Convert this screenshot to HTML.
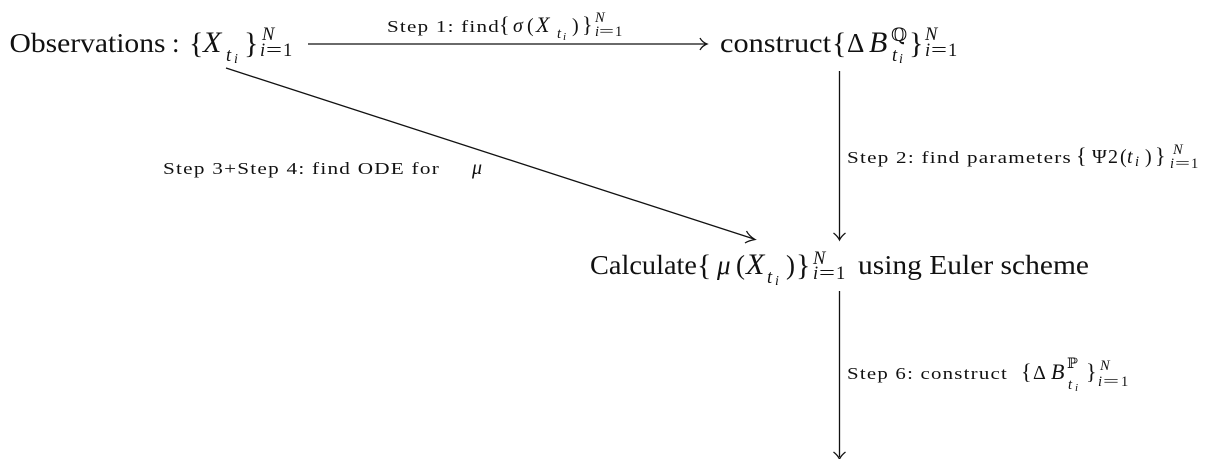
<!DOCTYPE html>
<html><head><meta charset="utf-8"><style>
html,body{margin:0;padding:0;background:#fff;width:1209px;height:459px;overflow:hidden}
svg{display:block}
text{font-family:"Liberation Serif","DejaVu Serif",serif;fill:#111}
.b{font-size:27px}.i{font-style:italic}
.s{font-size:17px;letter-spacing:1px}.m{font-size:20px}.xs{font-size:14.5px}.xxs{font-size:11px}
.n{font-size:18.500px}.ss{font-size:14px}
.bx{font-size:30px}.mx{font-size:22px}
line,path{stroke:#111;fill:none;stroke-width:1.3}
</style></head><body>
<svg width="1209" height="459" viewBox="0 0 1209 459" xmlns="http://www.w3.org/2000/svg">
<line x1="308" y1="44" x2="706" y2="44"/><path d="M700 38Q702 42 707 44Q702 46 700 50"/>
<line x1="839.5" y1="71" x2="839.5" y2="239"/><path d="M833.5 233Q837.5 236 839.5 240Q841.5 236 845.5 233"/>
<line x1="839.5" y1="291" x2="839.5" y2="457"/><path d="M833.5 452Q837.5 455 839.5 459Q841.5 455 845.5 452"/>
<line x1="226" y1="68" x2="754" y2="239"/><path d="M746.500 231Q749 236 755 239.500Q749 240.500 745 243"/>

<text class="b" x="9.500" y="52" textLength="156" lengthAdjust="spacingAndGlyphs">Observations</text>
<text class="b" x="172" y="52">:</text>
<text class="bx" x="189" y="53">{</text>
<text class="bx i" x="203" y="52">X</text>
<text class="n i" x="226" y="61">t</text><text class="ss i" x="234" y="63">i</text>
<text class="bx" x="244" y="53">}</text>
<text class="n i" x="262" y="40">N</text>
<text class="n i" x="260" y="56">i</text><text class="n" x="266" y="56" textLength="16" lengthAdjust="spacingAndGlyphs">=</text><text class="n" x="283" y="56">1</text>

<text class="s" x="387" y="32" textLength="113" lengthAdjust="spacingAndGlyphs">Step 1: find</text>
<text class="mx" x="499" y="32">{</text><text class="m i" x="513" y="32">σ</text><text class="m" x="527" y="32">(</text>
<text class="mx i" x="536" y="32">X</text>
<text class="xs i" x="557" y="38">t</text><text class="xxs i" x="563" y="40">i</text>
<text class="m" x="572" y="32">)</text><text class="mx" x="582" y="32">}</text>
<text class="xs i" x="595" y="22">N</text>
<text class="xs i" x="595" y="36">i</text><text class="xs" x="599" y="36" textLength="15" lengthAdjust="spacingAndGlyphs">=</text><text class="xs" x="615" y="36">1</text>

<text class="b" x="720" y="52" textLength="111" lengthAdjust="spacingAndGlyphs">construct</text>
<text class="bx" x="832" y="53">{</text>
<text class="b" x="847" y="52">Δ</text>
<text class="bx i" x="869" y="52">B</text>
<text class="n" x="891" y="41">ℚ</text>
<text class="n i" x="892" y="61">t</text><text class="ss i" x="899" y="63">i</text>
<text class="bx" x="909" y="53">}</text>
<text class="n i" x="925" y="40">N</text>
<text class="n i" x="925" y="56">i</text><text class="n" x="931" y="56" textLength="16" lengthAdjust="spacingAndGlyphs">=</text><text class="n" x="948" y="56">1</text>

<text class="s" x="847" y="163" textLength="225" lengthAdjust="spacingAndGlyphs">Step 2: find parameters</text>
<text class="mx" x="1076" y="163">{</text><text class="m" x="1092" y="163">Ψ</text>
<text class="m" x="1108" y="163">2</text><text class="m" x="1120" y="163">(</text>
<text class="m i" x="1127" y="163">t</text><text class="xs i" x="1135" y="166">i</text>
<text class="m" x="1145" y="163">)</text><text class="mx" x="1155" y="163">}</text>
<text class="xs i" x="1173" y="154">N</text>
<text class="xs i" x="1170" y="168">i</text><text class="xs" x="1175" y="168" textLength="15" lengthAdjust="spacingAndGlyphs">=</text><text class="xs" x="1191" y="168">1</text>

<text class="s" x="163" y="174" textLength="277" lengthAdjust="spacingAndGlyphs">Step 3+Step 4: find ODE for</text>
<text class="m i" x="472" y="174">μ</text>

<text class="b" x="590" y="274" textLength="107" lengthAdjust="spacingAndGlyphs">Calculate</text>
<text class="bx" x="697" y="275">{</text><text class="b i" x="717" y="274">μ</text><text class="b" x="736" y="274">(</text>
<text class="bx i" x="746" y="274">X</text>
<text class="n i" x="767" y="283">t</text><text class="ss i" x="775" y="285">i</text>
<text class="b" x="786" y="274">)</text><text class="bx" x="796" y="275">}</text>
<text class="n i" x="813" y="264">N</text>
<text class="n i" x="813" y="279">i</text><text class="n" x="819" y="279" textLength="16" lengthAdjust="spacingAndGlyphs">=</text><text class="n" x="836" y="279">1</text>
<text class="b" x="858" y="274" textLength="231" lengthAdjust="spacingAndGlyphs">using Euler scheme</text>

<text class="s" x="847" y="379" textLength="161" lengthAdjust="spacingAndGlyphs">Step 6: construct</text>
<text class="mx" x="1021" y="379">{</text><text class="m" x="1033" y="379">Δ</text>
<text class="mx i" x="1051" y="379">B</text>
<text class="xs" x="1067" y="368">ℙ</text>
<text class="xs i" x="1068" y="389">t</text><text class="xxs i" x="1075" y="391">i</text>
<text class="mx" x="1086" y="379">}</text>
<text class="xs i" x="1100" y="370">N</text>
<text class="xs i" x="1098" y="386">i</text><text class="xs" x="1103" y="386" textLength="16" lengthAdjust="spacingAndGlyphs">=</text><text class="xs" x="1121" y="386">1</text>
</svg>
</body></html>
